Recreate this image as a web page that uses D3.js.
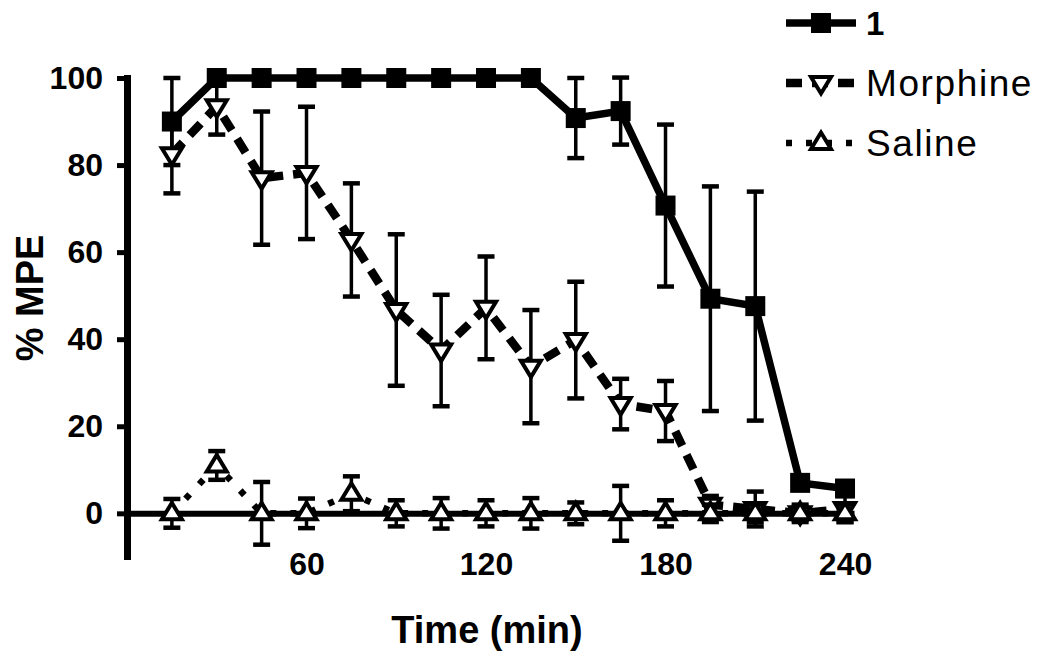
<!DOCTYPE html>
<html>
<head>
<meta charset="utf-8">
<script src="https://cdn.jsdelivr.net/npm/d3@7"></script>
<style>
  html, body { margin: 0; padding: 0; background: #fff; }
  svg { display: block; }
  text { font-family: "Liberation Sans", Arial, Helvetica, sans-serif; fill: #000; }
</style>
</head>
<body>
<svg id="chart" width="1050" height="667"></svg>
<script>
// ---- data ----
const times = [15, 30, 45, 60, 75, 90, 105, 120, 135, 150, 165, 180, 195, 210, 225, 240];
const compound1 = [90, 100, 100, 100, 100, 100, 100, 100, 100, 90.8, 92.4, 70.7, 49.3, 47.6, 7, 5.7];
const compound1Err = [10, 0, 0, 0, 0, 0, 0, 0, 0, 9.2, 7.7, 18.6, 25.8, 26.3, 0, 0];
const morphine = [82.5, 93.5, 77, 78.2, 62.8, 46.7, 37.4, 47.2, 33.7, 39.8, 25.1, 23.5, 2, 1, 0, 1];
const morphineErr = [9, 6.5, 15.3, 15.2, 13, 17.4, 12.8, 11.8, 13, 13.4, 5.8, 6.9, 2, 4, 1.5, 3];
const saline = [0, 11, 0, 0, 4.5, 0, 0, 0, 0, 0, 0, 0, 0, 0, 0, 0];
const salineErr = [3.3, 3.3, 7.2, 3.4, 4, 3, 3.5, 3, 3.5, 2.5, 6.3, 3, 2, 2, 2, 2];
const seriesNames = ["1", "Morphine", "Saline"];
const xTicks = [60, 120, 180, 240];
const yTicks = [0, 20, 40, 60, 80, 100];
const xLabel = "Time (min)";
const yLabel = "% MPE";

// ---- layout ----
const svg = d3.select("#chart");
const x = d3.scaleLinear().domain([0, 243]).range([127, 854]);
const y = d3.scaleLinear().domain([-9.8, 100]).range([556, 78]);

// X axis (line at y = 0, no ticks)
const xAxis = d3.axisBottom(x).tickValues(xTicks).tickSize(0).tickSizeOuter(0).tickPadding(39);
const gx = svg.append("g").attr("transform", `translate(0,${y(0)})`).call(xAxis);
gx.select(".domain").attr("stroke", "#000").attr("stroke-width", 6);
gx.selectAll("text").attr("font-size", 32).attr("font-weight", "bold")
  .attr("font-family", "'Liberation Sans', Arial, sans-serif");

// Y axis
const yAxis = d3.axisLeft(y).tickValues(yTicks).tickSize(10).tickSizeOuter(0).tickPadding(14);
const gy = svg.append("g").attr("transform", `translate(${x(0)},0)`).call(yAxis);
gy.select(".domain").attr("stroke", "#000").attr("stroke-width", 7).attr("stroke-linecap", "square");
gy.selectAll(".tick line").attr("stroke", "#000").attr("stroke-width", 5);
gy.selectAll("text").attr("font-size", 32).attr("font-weight", "bold")
  .attr("font-family", "'Liberation Sans', Arial, sans-serif");

// Axis titles
svg.append("text").attr("x", 487).attr("y", 643).attr("text-anchor", "middle")
  .attr("font-size", 38).attr("font-weight", "bold").text(xLabel);
svg.append("text").attr("transform", "translate(43,298) rotate(-90)").attr("text-anchor", "middle")
  .attr("font-size", 38).attr("font-weight", "bold").text(yLabel);

// ---- series ----
const series = [
  { name: seriesNames[0], vals: compound1, err: compound1Err, dash: null, lw: 7.5, marker: "square" },
  { name: seriesNames[1], vals: morphine, err: morphineErr, dash: "16,10", lw: 8.5, marker: "down" },
  { name: seriesNames[2], vals: saline, err: salineErr, dash: "6,14", lw: 6.5, marker: "up" }
];

const line = d3.line().x(d => x(d.t)).y(d => y(d.v));

function markerPath(type) {
  const s = 10;
  if (type === "down") return `M${-s},${-s * 0.6} L${s},${-s * 0.6} L0,${s * 1.05} Z`;
  return `M${-s},${s * 0.6} L${s},${s * 0.6} L0,${-s * 1.05} Z`;
}

function drawMarker(g, type, cx, cy) {
  if (type === "square") {
    g.append("rect").attr("x", cx - 10).attr("y", cy - 10).attr("width", 20).attr("height", 20).attr("fill", "#000");
  } else {
    g.append("path").attr("d", markerPath(type)).attr("transform", `translate(${cx},${cy})`)
      .attr("fill", "#fff").attr("stroke", "#000").attr("stroke-width", 4).attr("stroke-linejoin", "miter");
  }
}

const plot = svg.append("g");
series.forEach(s => {
  const data = times.map((t, i) => ({ t, v: s.vals[i], e: s.err[i] }));
  const g = plot.append("g");
  // error bars
  data.forEach(d => {
    if (d.e > 0) {
      g.append("line").attr("x1", x(d.t)).attr("x2", x(d.t)).attr("y1", y(d.v - d.e)).attr("y2", y(d.v + d.e))
        .attr("stroke", "#000").attr("stroke-width", 3.5);
      [d.v - d.e, d.v + d.e].forEach(v => {
        g.append("line").attr("x1", x(d.t) - 8.5).attr("x2", x(d.t) + 8.5).attr("y1", y(v)).attr("y2", y(v))
          .attr("stroke", "#000").attr("stroke-width", 4.5);
      });
    }
  });
  // line
  g.append("path").datum(data).attr("d", line).attr("fill", "none").attr("stroke", "#000")
    .attr("stroke-width", s.lw).attr("stroke-dasharray", s.dash).attr("stroke-linejoin", "miter");
  // markers
  data.forEach(d => drawMarker(g, s.marker, x(d.t), y(d.v)));
});

// ---- legend ----
const legendY = [23, 83, 143];
const leg = svg.append("g");
series.forEach((s, i) => {
  const ly = legendY[i];
  leg.append("line").attr("x1", 786).attr("x2", 856).attr("y1", ly).attr("y2", ly)
    .attr("stroke", "#000").attr("stroke-width", s.lw).attr("stroke-dasharray", s.dash);
  drawMarker(leg, s.marker, 821, ly);
  leg.append("text").attr("x", 866).attr("y", ly + (i === 0 ? 12 : 13))
    .attr("font-size", i === 0 ? 33 : 37).attr("font-weight", i === 0 ? "bold" : "normal")
    .attr("letter-spacing", i === 0 ? 0 : 1.6).text(s.name);
});
</script>
</body>
</html>
